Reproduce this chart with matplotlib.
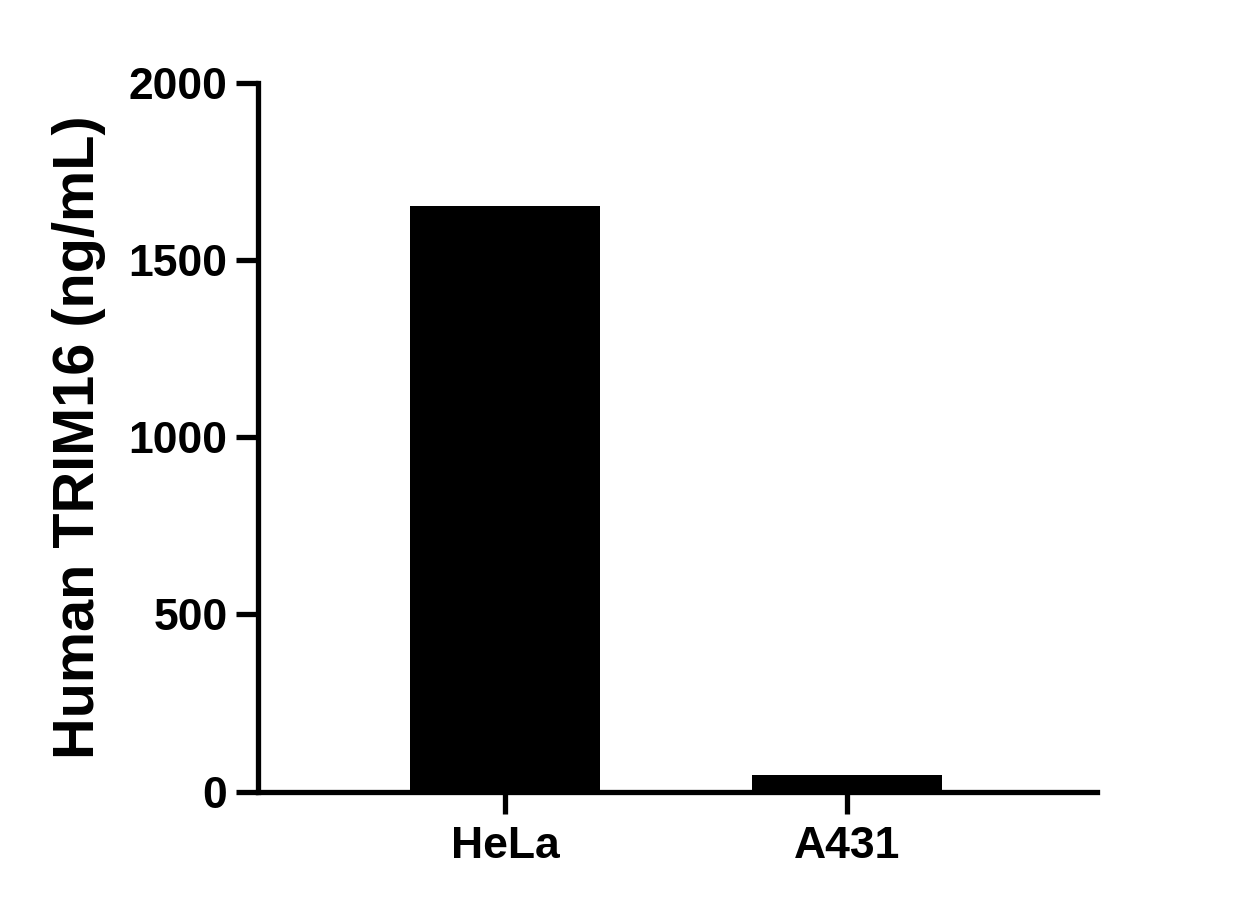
import numpy as np
import matplotlib
matplotlib.use("Agg")
import matplotlib.pyplot as plt

# data
cell_lines = ["HeLa", "A431"]
trim16_ng_ml = [1652, 46]
y_ticks = [0, 500, 1000, 1500, 2000]

plt.rcParams["font.family"] = ["Liberation Sans", "DejaVu Sans"]
plt.rcParams["font.weight"] = "bold"

fig = plt.figure(figsize=(12.33, 9.08), dpi=100)
ax = fig.add_axes([258 / 1233, 1 - 791.5 / 908, (1097 - 258) / 1233, (791.5 - 83) / 908])

x = np.arange(len(cell_lines))
ax.bar(x, trim16_ng_ml, width=0.556, color="black", edgecolor="none", zorder=2)

ax.set_xlim(-0.722, 1.73)
ax.set_ylim(0, 2000)
ax.set_yticks(y_ticks)
ax.set_xticks(x)
ax.set_xticklabels(cell_lines)

lw = 3.8
for side in ["top", "right"]:
    ax.spines[side].set_visible(False)
for side in ["left", "bottom"]:
    ax.spines[side].set_linewidth(lw)
    ax.spines[side].set_zorder(3)

ax.tick_params(axis="both", length=16, width=lw, labelsize=32, color="black")
ax.tick_params(axis="y", pad=6)
ax.tick_params(axis="x", pad=9)
for lab in ax.get_xticklabels() + ax.get_yticklabels():
    lab.set_fontweight("bold")

ax.set_ylabel("Human TRIM16 (ng/mL)", fontsize=41.5, fontweight="bold")
ax.yaxis.set_label_coords(-0.181, 0.5)

fig.savefig("out.png", dpi=100)
